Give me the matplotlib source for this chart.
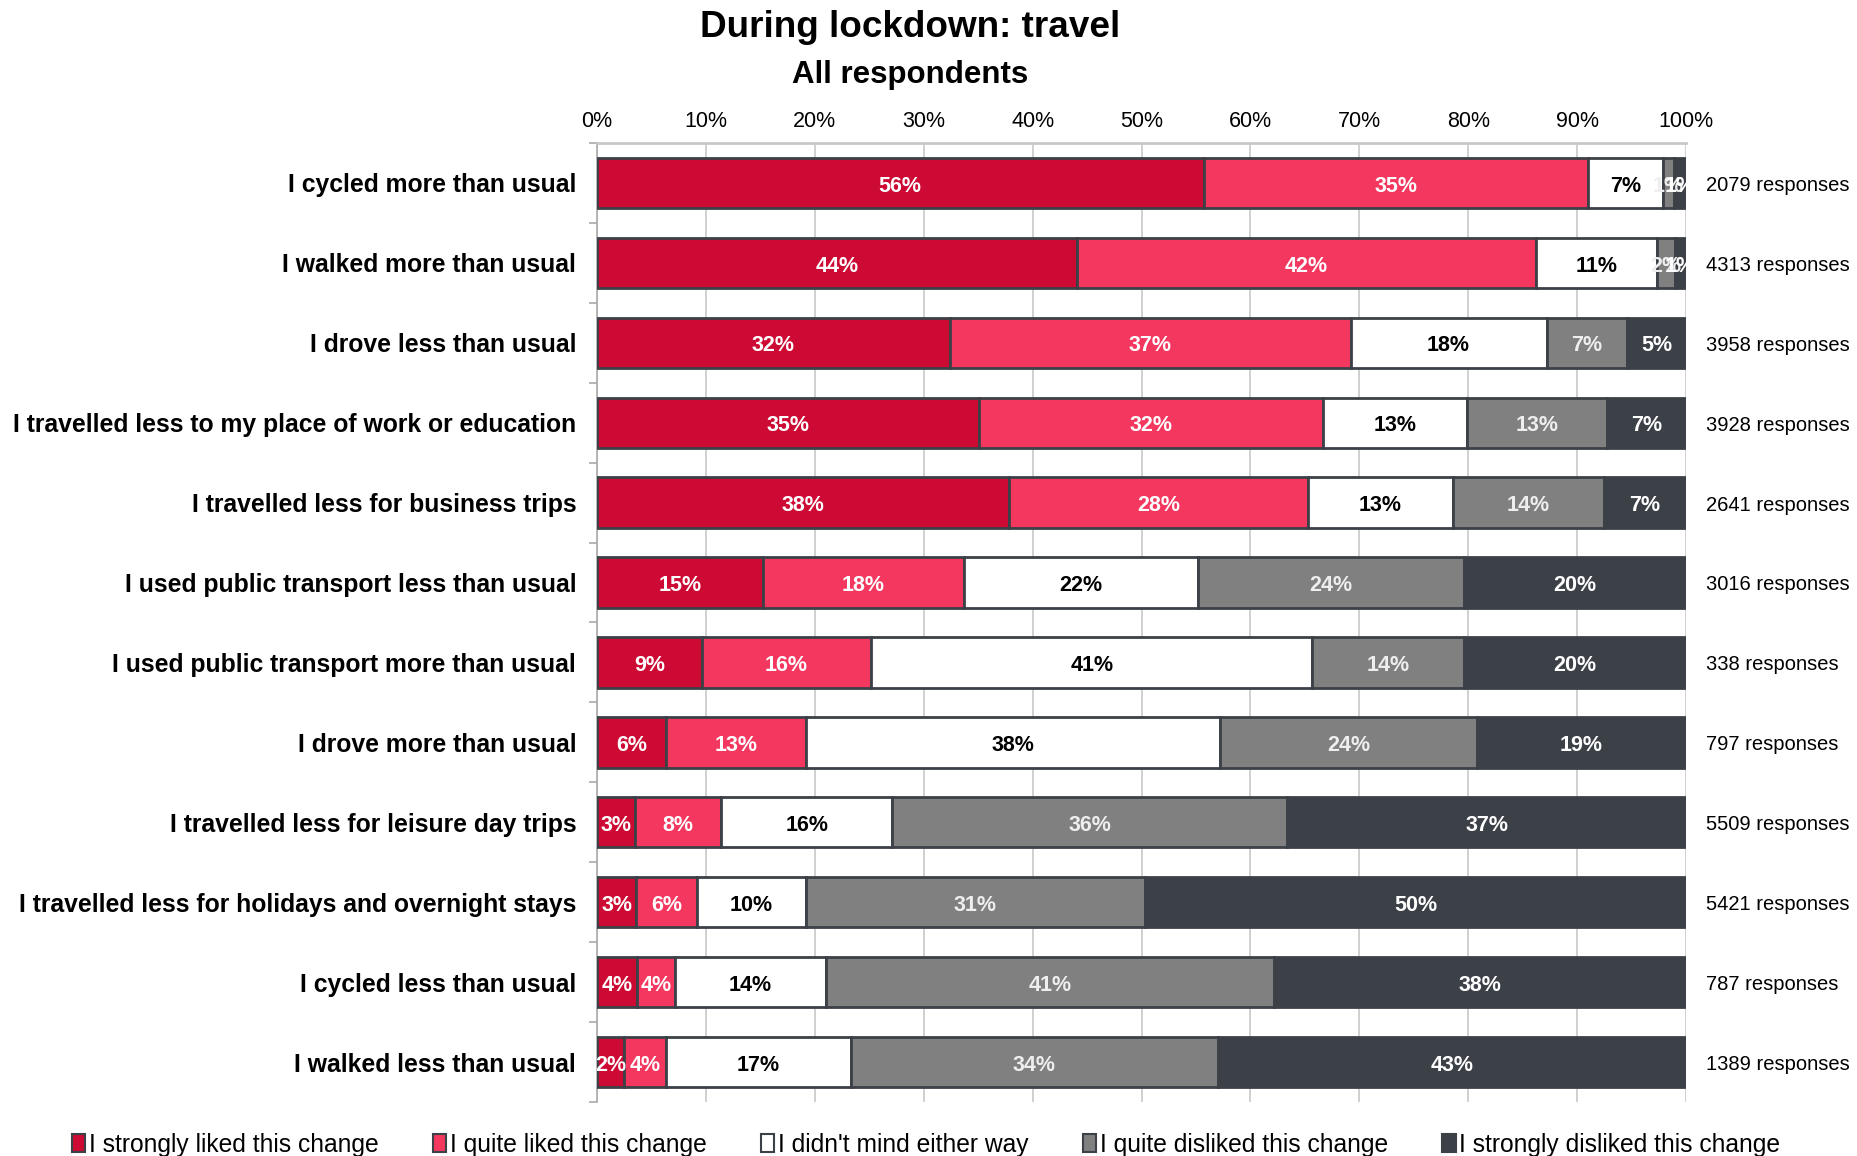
import matplotlib
matplotlib.use("Agg")
import matplotlib.pyplot as plt
import numpy as np
from matplotlib.patches import Patch

plt.rcParams['font.family'] = ['Liberation Sans', 'DejaVu Sans']

categories = [
    "I cycled more than usual",
    "I walked more than usual",
    "I drove less than usual",
    "I travelled less to my place of work or education",
    "I travelled less for business trips",
    "I used public transport less than usual",
    "I used public transport more than usual",
    "I drove more than usual",
    "I travelled less for leisure day trips",
    "I travelled less for holidays and overnight stays",
    "I cycled less than usual",
    "I walked less than usual",
]
series_names = [
    "I strongly liked this change",
    "I quite liked this change",
    "I didn't mind either way",
    "I quite disliked this change",
    "I strongly disliked this change",
]
strongly_liked = [55.7, 44.1, 32.4, 35.1, 37.8, 15.2, 9.6, 6.3, 3.5, 3.6, 3.7, 2.5]
quite_liked = [35.3, 42.1, 36.8, 31.6, 27.5, 18.5, 15.6, 12.9, 7.9, 5.6, 3.5, 3.8]
didnt_mind = [6.9, 11.1, 18.0, 13.2, 13.3, 21.5, 40.5, 38.0, 15.7, 10.0, 13.8, 17.0]
quite_disliked = [1.0, 1.7, 7.4, 12.8, 13.9, 24.4, 13.9, 23.6, 36.3, 31.1, 41.2, 33.7]
strongly_disliked = [1.1, 1.0, 5.4, 7.3, 7.5, 20.4, 20.4, 19.2, 36.6, 49.7, 37.8, 43.0]
label_vals = [
    [56, 35, 7, 1, 1], [44, 42, 11, 2, 1], [32, 37, 18, 7, 5], [35, 32, 13, 13, 7],
    [38, 28, 13, 14, 7], [15, 18, 22, 24, 20], [9, 16, 41, 14, 20], [6, 13, 38, 24, 19],
    [3, 8, 16, 36, 37], [3, 6, 10, 31, 50], [4, 4, 14, 41, 38], [2, 4, 17, 34, 43],
]
responses = [2079, 4313, 3958, 3928, 2641, 3016, 338, 797, 5509, 5421, 787, 1389]
xticks = [0, 10, 20, 30, 40, 50, 60, 70, 80, 90, 100]

colors = ["#CC0A33", "#F4375F", "#FFFFFF", "#808080", "#3C4047"]
text_colors = ["white", "white", "black", "#EEEEEE", "white"]
edge = "#3C4047"

fig = plt.figure(figsize=(18.58, 11.56), dpi=100)
ax = fig.add_axes([597/1858, 1 - 1102/1156, (1686-597)/1858, (1102-143)/1156])

series = [strongly_liked, quite_liked, didnt_mind, quite_disliked, strongly_disliked]
n = len(categories)
y = np.arange(n)
left = np.zeros(n)
for si, vals in enumerate(series):
    vals = np.array(vals)
    ax.barh(y, vals, left=left, height=0.63, color=colors[si], edgecolor=edge,
            linewidth=2, zorder=3, label=series_names[si])
    for i in range(n):
        cx = left[i] + vals[i] / 2
        ax.text(cx, y[i] + 0.04, f"{label_vals[i][si]}%", ha="center", va="center",
                fontsize=15.5, fontweight="bold", color=text_colors[si], zorder=4)
    left += vals

for i in range(n):
    ax.text(101.8, y[i] + 0.03, f"{responses[i]} responses", ha="left", va="center",
            fontsize=14.5, color="black")

ax.set_xlim(0, 100)
ax.set_ylim(n - 0.5, -0.5)
ax.set_xticks(xticks)
ax.set_xticklabels([f"{t}%" for t in xticks], fontsize=15.5)
ax.xaxis.tick_top()
ax.tick_params(axis="x", length=0, pad=8)
ax.set_yticks(y)
ax.set_yticklabels(categories, fontsize=17.8, fontweight="bold")
ax.tick_params(axis="y", length=0, pad=15)
ax.set_yticks(np.arange(n + 1) - 0.5, minor=True)
ax.tick_params(axis="y", which="minor", length=6, color="#AAAAAA", width=1.2)
ax.grid(axis="x", color="#C8C8C8", linewidth=1.2, zorder=0)
for s in ["right", "bottom"]:
    ax.spines[s].set_visible(False)
ax.spines["top"].set_color("#C8C8C8")
ax.spines["top"].set_linewidth(2)
ax.spines["left"].set_color("#AAAAAA")
ax.spines["left"].set_linewidth(1.2)

fig.text(910/1858, 1 - 27.5/1156, "During lockdown: travel", ha="center", va="center",
         fontsize=26.6, fontweight="bold")
fig.text(910/1858, 1 - 74.5/1156, "All respondents", ha="center", va="center",
         fontsize=22.5, fontweight="bold")

handles = [Patch(facecolor=c, edgecolor=edge, linewidth=1.5) for c in colors]
fig.legend(handles, series_names, loc="center", bbox_to_anchor=(0.4985, 1 - 1145/1156),
           ncol=5, frameon=False, fontsize=17.7, handlelength=0.55, handleheight=0.75,
           handletextpad=0.15, columnspacing=2.2)

fig.savefig("out.png", dpi=100)
